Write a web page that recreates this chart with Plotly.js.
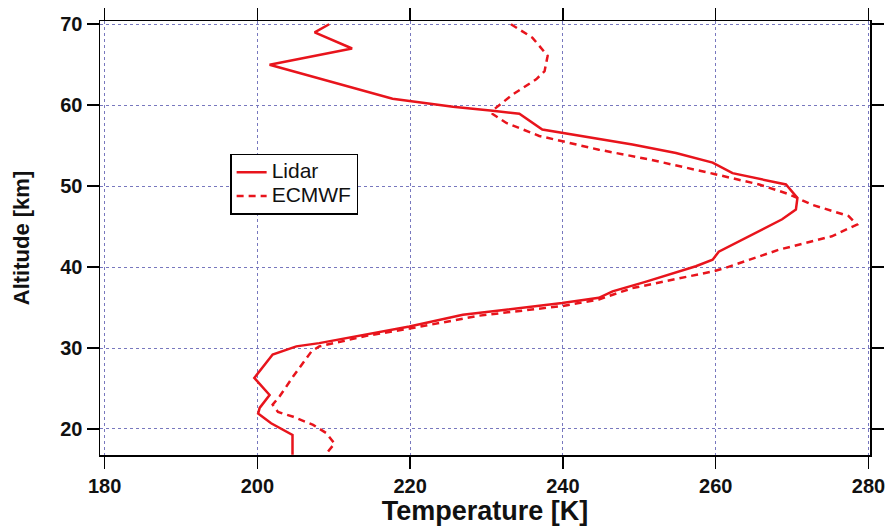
<!DOCTYPE html>
<html>
<head>
<meta charset="utf-8">
<script src="https://cdn.plot.ly/plotly-3.0.1.min.js"></script>
<style>html,body{margin:0;padding:0;background:#fff;}#chart{width:890px;height:531px;}</style>
</head>
<body>
<div id="chart"></div>
<script>
// Lidar temperature profile (K) vs altitude (km)
const lidarTemp = [209.4, 207.5, 212.4, 201.6, 217.7, 225.6, 230.8, 234.3, 237.3, 244.7, 249.1, 254.8, 259.6, 262.2, 269.2, 270.7, 270.5, 268.7, 265.2, 263.5, 260.4, 259.6, 257.4, 250.9, 246.5, 244.7, 239.9, 226.9, 219.9, 208.1, 205.1, 202.0, 201.4, 199.6, 201.6, 200.3, 200.1, 201.8, 204.6, 204.6];
const lidarAlt  = [70.0, 69.0, 67.0, 65.0, 60.8, 59.8, 59.3, 58.95, 57.0, 55.8, 55.15, 54.1, 52.9, 51.6, 50.2, 48.55, 47.1, 45.9, 44.2, 43.4, 41.9, 40.9, 40.1, 38.2, 37.0, 36.2, 35.55, 34.1, 32.65, 30.6, 30.2, 29.2, 28.5, 26.3, 24.2, 22.6, 21.9, 20.7, 19.25, 16.8];
// ECMWF temperature profile (K) vs altitude (km)
const ecmwfTemp = [233.2, 236.0, 238.0, 237.6, 236.5, 233.4, 231.0, 230.8, 232.6, 236.9, 244.7, 251.3, 259.8, 265.7, 269.6, 272.6, 277.4, 278.5, 275.2, 268.3, 261.3, 259.8, 249.1, 244.7, 240.0, 229.1, 219.9, 214.3, 208.1, 207.1, 204.7, 202.9, 202.0, 202.7, 204.7, 207.3, 209.0, 210.1, 209.0];
const ecmwfAlt  = [70.0, 68.35, 66.1, 64.2, 63.2, 61.3, 59.5, 58.9, 57.8, 56.2, 54.5, 53.3, 51.5, 50.2, 49.0, 47.7, 46.3, 45.25, 43.8, 42.15, 39.9, 39.5, 37.4, 36.0, 35.2, 34.0, 32.4, 31.5, 30.2, 29.6, 26.5, 24.0, 23.0, 22.1, 21.5, 20.5, 19.5, 18.2, 16.9];
const seriesNames = ['Lidar', 'ECMWF'];
const xTicks = [180, 200, 220, 240, 260, 280];
const yTicks = [20, 30, 40, 50, 60, 70];

const red = 'rgb(232,20,28)';
const legendName = n => '<span style="font-size:21px">' + n + '</span>';
const traces = [
  {x: lidarTemp, y: lidarAlt, name: legendName(seriesNames[0]), mode: 'lines', line: {color: red, width: 2.5}},
  {x: ecmwfTemp, y: ecmwfAlt, name: legendName(seriesNames[1]), mode: 'lines', line: {color: red, width: 2.5, dash: '7px,5px'}}
];
const fontFam = '"Liberation Sans", Arial, Helvetica, sans-serif';
const axisCommon = {
  showline: true, linecolor: '#000', linewidth: 1.5, mirror: 'ticks',
  ticks: 'outside', ticklen: 12, tickwidth: 1.5, tickcolor: '#000',
  showgrid: true, gridcolor: 'rgb(120,120,190)', gridwidth: 1, griddash: 'dot',
  zeroline: false,
  tickfont: {family: fontFam, size: 20, color: '#111', weight: 'bold'}
};
const layout = {
  width: 890, height: 531,
  margin: {l: 100, r: 20, t: 21, b: 76},
  paper_bgcolor: '#fff', plot_bgcolor: '#fff',
  showlegend: true,
  legend: {x: 0.169, y: 0.694, xanchor: 'left', yanchor: 'top',
           bordercolor: '#000', borderwidth: 1.5, bgcolor: '#fff',
           font: {family: fontFam, size: 16, color: '#111'}, tracegroupgap: 0},
  xaxis: Object.assign({}, axisCommon, {
    range: [179.4, 280.2], tickvals: xTicks, ticktext: xTicks.map(String),
    title: {text: 'Temperature [K]', font: {family: fontFam, size: 27, color: '#111', weight: 'bold'}, standoff: 4}
  }),
  yaxis: Object.assign({}, axisCommon, {
    range: [16.78, 70.4], tickvals: yTicks, ticktext: yTicks.map(String),
    title: {text: 'Altitude [km]', font: {family: fontFam, size: 22, color: '#111', weight: 'bold'}, standoff: 24}
  })
};
Plotly.newPlot('chart', traces, layout, {displayModeBar: false, staticPlot: true});
</script>
</body>
</html>
